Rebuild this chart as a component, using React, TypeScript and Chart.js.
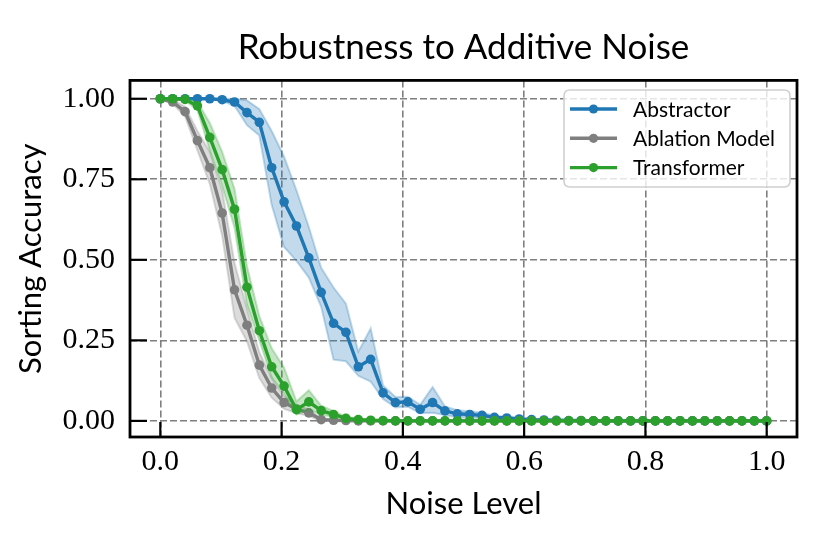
import { useEffect, useRef } from 'react';
import { Chart, registerables } from 'chart.js';

Chart.register(...registerables);

const NOISE = [
  0, 0.0204, 0.0408, 0.0612, 0.0816, 0.102, 0.1224, 0.1429, 0.1633, 0.1837,
  0.2041, 0.2245, 0.2449, 0.2653, 0.2857, 0.3061, 0.3265, 0.3469, 0.3673, 0.3878,
  0.4082, 0.4286, 0.449, 0.4694, 0.4898, 0.5102, 0.5306, 0.551, 0.5714, 0.5918,
  0.6122, 0.6327, 0.6531, 0.6735, 0.6939, 0.7143, 0.7347, 0.7551, 0.7755, 0.7959,
  0.8163, 0.8367, 0.8571, 0.8776, 0.898, 0.9184, 0.9388, 0.9592, 0.9796, 1.0,
];

const ABSTRACTOR = [
  1.0, 1.0, 1.0, 1.0, 1.0, 0.997, 0.99, 0.957, 0.927, 0.786,
  0.68, 0.605, 0.506, 0.399, 0.303, 0.275, 0.168, 0.191, 0.087, 0.057,
  0.059, 0.036, 0.057, 0.031, 0.022, 0.02, 0.017, 0.011, 0.009, 0.006,
  0.004, 0.003, 0.002, 0.001, 0.001, 0, 0, 0, 0, 0,
  0, 0, 0, 0, 0, 0, 0, 0, 0, 0,
];
const ABSTRACTOR_HI = [
  1.0, 1.0, 1.0, 1.0, 1.0, 1.0, 1.0, 0.995, 0.968, 0.9,
  0.82, 0.716, 0.602, 0.475, 0.414, 0.364, 0.215, 0.287, 0.11, 0.074,
  0.075, 0.05, 0.105, 0.045, 0.033, 0.03, 0.025, 0.017, 0.013, 0.01,
  0.007, 0.005, 0.004, 0.002, 0.002, 0, 0, 0, 0, 0,
  0, 0, 0, 0, 0, 0, 0, 0, 0, 0,
];
const ABSTRACTOR_LO = [
  1.0, 1.0, 1.0, 1.0, 1.0, 0.993, 0.978, 0.918, 0.886, 0.67,
  0.54, 0.497, 0.445, 0.354, 0.19, 0.185, 0.14, 0.122, 0.068, 0.042,
  0.044, 0.024, 0.025, 0.018, 0.011, 0.01, 0.009, 0.005, 0.005, 0.002,
  0.001, 0, 0, 0, 0, 0, 0, 0, 0, 0,
  0, 0, 0, 0, 0, 0, 0, 0, 0, 0,
];

const ABLATION = [
  1.0, 0.99, 0.96, 0.87, 0.786, 0.645, 0.407, 0.297, 0.173, 0.102,
  0.057, 0.037, 0.025, 0.004, 0.002, 0.001, 0, 0, 0, 0,
  0, 0, 0, 0, 0, 0, 0, 0, 0, 0,
  0, 0, 0, 0, 0, 0, 0, 0, 0, 0,
  0, 0, 0, 0, 0, 0, 0, 0, 0, 0,
];
const ABLATION_HI = [
  1.0, 0.998, 0.975, 0.9, 0.835, 0.715, 0.49, 0.347, 0.213, 0.132,
  0.077, 0.05, 0.035, 0.008, 0.004, 0.002, 0, 0, 0, 0,
  0, 0, 0, 0, 0, 0, 0, 0, 0, 0,
  0, 0, 0, 0, 0, 0, 0, 0, 0, 0,
  0, 0, 0, 0, 0, 0, 0, 0, 0, 0,
];
const ABLATION_LO = [
  1.0, 0.985, 0.945, 0.84, 0.736, 0.575, 0.32, 0.247, 0.133, 0.072,
  0.037, 0.024, 0.015, 0, 0, 0, 0, 0, 0, 0,
  0, 0, 0, 0, 0, 0, 0, 0, 0, 0,
  0, 0, 0, 0, 0, 0, 0, 0, 0, 0,
  0, 0, 0, 0, 0, 0, 0, 0, 0, 0,
];

const TRANSFORMER = [
  1.0, 1.0, 0.998, 0.978, 0.88, 0.78, 0.657, 0.415, 0.28, 0.168,
  0.108, 0.035, 0.059, 0.032, 0.02, 0.008, 0.004, 0.002, 0.001, 0,
  0, 0, 0, 0, 0, 0, 0, 0, 0, 0,
  0, 0, 0, 0, 0, 0, 0, 0, 0, 0,
  0, 0, 0, 0, 0, 0, 0, 0, 0, 0,
];
const TRANSFORMER_HI = [
  1.0, 1.0, 1.0, 0.99, 0.925, 0.835, 0.72, 0.48, 0.325, 0.225,
  0.165, 0.06, 0.095, 0.047, 0.03, 0.013, 0.007, 0.004, 0.002, 0,
  0, 0, 0, 0, 0, 0, 0, 0, 0, 0,
  0, 0, 0, 0, 0, 0, 0, 0, 0, 0,
  0, 0, 0, 0, 0, 0, 0, 0, 0, 0,
];
const TRANSFORMER_LO = [
  1.0, 1.0, 0.995, 0.965, 0.84, 0.73, 0.6, 0.36, 0.25, 0.135,
  0.085, 0.02, 0.035, 0.02, 0.012, 0.004, 0.001, 0, 0, 0,
  0, 0, 0, 0, 0, 0, 0, 0, 0, 0,
  0, 0, 0, 0, 0, 0, 0, 0, 0, 0,
  0, 0, 0, 0, 0, 0, 0, 0, 0, 0,
];

const X_TICKS = [0, 0.2, 0.4, 0.6, 0.8, 1.0];
const Y_TICKS = [0, 0.25, 0.5, 0.75, 1.0];

const SERIES_NAMES = ['Abstractor', 'Ablation Model', 'Transformer'];
const SERIES_COLORS = ['31,119,180', '127,127,127', '44,160,44'];

const TITLE = 'Robustness to Additive Noise';
const X_LABEL = 'Noise Level';
const Y_LABEL = 'Sorting Accuracy';

const SANS = 'Lato, "DejaVu Sans", sans-serif';
const SERIF = '"Liberation Serif", "DejaVu Serif", serif';

const pts = (arr: number[]) => NOISE.map((x, i) => ({ x, y: arr[i] }));

export default function App() {
  const ref = useRef<HTMLCanvasElement | null>(null);

  useEffect(() => {
    document.body.style.margin = '0';
    const canvas = ref.current;
    if (!canvas) return;

    const groups = [
      { mean: TRANSFORMER, hi: TRANSFORMER_HI, lo: TRANSFORMER_LO, c: SERIES_COLORS[2], name: SERIES_NAMES[2] },
      { mean: ABLATION, hi: ABLATION_HI, lo: ABLATION_LO, c: SERIES_COLORS[1], name: SERIES_NAMES[1] },
      { mean: ABSTRACTOR, hi: ABSTRACTOR_HI, lo: ABSTRACTOR_LO, c: SERIES_COLORS[0], name: SERIES_NAMES[0] },
    ];
    const datasets: any[] = [];
    groups.forEach((g) => {
      const base = datasets.length;
      datasets.push({
        label: g.name,
        data: pts(g.mean),
        borderColor: `rgb(${g.c})`,
        backgroundColor: `rgb(${g.c})`,
        borderWidth: 3.4,
        pointRadius: 4.8,
        pointBorderWidth: 0,
        pointBackgroundColor: `rgb(${g.c})`,
        tension: 0,
        fill: false,
      });
      datasets.push({
        label: g.name + ' hi',
        data: pts(g.hi),
        borderColor: `rgba(${g.c},0.28)`,
        backgroundColor: `rgba(${g.c},0.27)`,
        borderWidth: 2,
        pointRadius: 0,
        tension: 0,
        fill: base + 2,
      });
      datasets.push({
        label: g.name + ' lo',
        data: pts(g.lo),
        borderColor: `rgba(${g.c},0.28)`,
        backgroundColor: `rgba(${g.c},0.27)`,
        borderWidth: 2,
        pointRadius: 0,
        tension: 0,
        fill: false,
      });
    });

    const framePlugin = {
      id: 'frame',
      afterDraw(chart: any) {
        const { ctx, chartArea } = chart;
        const { left, right, top, bottom } = chartArea;
        const xs = chart.scales.x;
        const ys = chart.scales.y;
        ctx.save();
        ctx.strokeStyle = '#000';
        ctx.lineWidth = 2.2;
        ctx.setLineDash([]);
        ys.ticks.forEach((t: any) => {
          const py = ys.getPixelForValue(t.value);
          ctx.beginPath();
          ctx.moveTo(left, py);
          ctx.lineTo(left + 17, py);
          ctx.stroke();
        });
        xs.ticks.forEach((t: any) => {
          const px = xs.getPixelForValue(t.value);
          ctx.beginPath();
          ctx.moveTo(px, bottom);
          ctx.lineTo(px, bottom - 15);
          ctx.stroke();
        });
        ctx.lineWidth = 2.8;
        ctx.strokeRect(left, top, right - left, bottom - top);

        // legend
        const bx = 564, by = 90, bw = 226, bh = 97, r = 6;
        ctx.beginPath();
        ctx.moveTo(bx + r, by);
        ctx.lineTo(bx + bw - r, by);
        ctx.quadraticCurveTo(bx + bw, by, bx + bw, by + r);
        ctx.lineTo(bx + bw, by + bh - r);
        ctx.quadraticCurveTo(bx + bw, by + bh, bx + bw - r, by + bh);
        ctx.lineTo(bx + r, by + bh);
        ctx.quadraticCurveTo(bx, by + bh, bx, by + bh - r);
        ctx.lineTo(bx, by + r);
        ctx.quadraticCurveTo(bx, by, bx + r, by);
        ctx.closePath();
        ctx.fillStyle = 'rgba(255,255,255,0.8)';
        ctx.fill();
        ctx.strokeStyle = '#d0d0d0';
        ctx.lineWidth = 1.6;
        ctx.stroke();

        SERIES_NAMES.forEach((name, i) => {
          const yy = 109 + i * 29.3;
          const col = `rgb(${SERIES_COLORS[i]})`;
          ctx.strokeStyle = col;
          ctx.lineWidth = 3.4;
          ctx.beginPath();
          ctx.moveTo(570, yy);
          ctx.lineTo(617, yy);
          ctx.stroke();
          ctx.fillStyle = col;
          ctx.beginPath();
          ctx.arc(593.5, yy, 4.6, 0, Math.PI * 2);
          ctx.fill();
          ctx.fillStyle = '#000';
          ctx.font = `21px ${SANS}`;
          ctx.textAlign = 'left';
          ctx.textBaseline = 'middle';
          ctx.fillText(name, 633, yy + 1);
        });
        ctx.restore();
      },
    };

    const gridCommon = {
      display: true,
      color: 'rgba(120,120,120,0.95)',
      lineWidth: 1.6,
      drawTicks: false,
      tickLength: 0,
    };

    const chart = new Chart(canvas, {
      type: 'line',
      data: { datasets },
      plugins: [framePlugin],
      options: {
        animation: false,
        responsive: false,
        events: [],
        layout: { padding: { top: 24, right: 33, bottom: 0, left: 0 } },
        plugins: {
          legend: { display: false },
          tooltip: { enabled: false },
          title: {
            display: true,
            text: TITLE,
            fullSize: false,
            color: '#000',
            font: { family: SANS, size: 35, weight: 'normal' },
            padding: { top: 3, bottom: 11.4 },
          },
        },
        scales: {
          x: {
            type: 'linear',
            min: -0.05,
            max: 1.05,
            afterFit(scale: any) {
              scale.height = 117;
            },
            afterBuildTicks(scale: any) {
              scale.ticks = X_TICKS.map((v) => ({ value: v }));
            },
            grid: gridCommon,
            border: { display: false, dash: [7, 3] },
            ticks: {
              color: '#000',
              padding: 7,
              maxRotation: 0,
              font: { family: SERIF, size: 30 },
              callback: (v: any) => Number(v).toFixed(1),
            },
            title: {
              display: true,
              text: X_LABEL,
              color: '#000',
              font: { family: SANS, size: 31 },
              padding: { top: 0, bottom: 31 },
            },
          },
          y: {
            type: 'linear',
            min: -0.05,
            max: 1.057,
            afterFit(scale: any) {
              scale.width = 130;
            },
            afterBuildTicks(scale: any) {
              scale.ticks = Y_TICKS.map((v) => ({ value: v }));
            },
            grid: gridCommon,
            border: { display: false, dash: [7, 3] },
            ticks: {
              color: '#000',
              padding: 15,
              font: { family: SERIF, size: 30 },
              callback: (v: any) => Number(v).toFixed(2),
            },
            title: {
              display: true,
              text: Y_LABEL,
              color: '#000',
              font: { family: SANS, size: 31 },
              padding: { top: 12, bottom: 0 },
            },
          },
        },
      } as any,
    });

    return () => {
      chart.destroy();
    };
  }, []);

  return (
    <div style={{ width: 830, height: 554, background: '#fff' }}>
      <canvas ref={ref} width={830} height={554} style={{ display: 'block' }} />
    </div>
  );
}
